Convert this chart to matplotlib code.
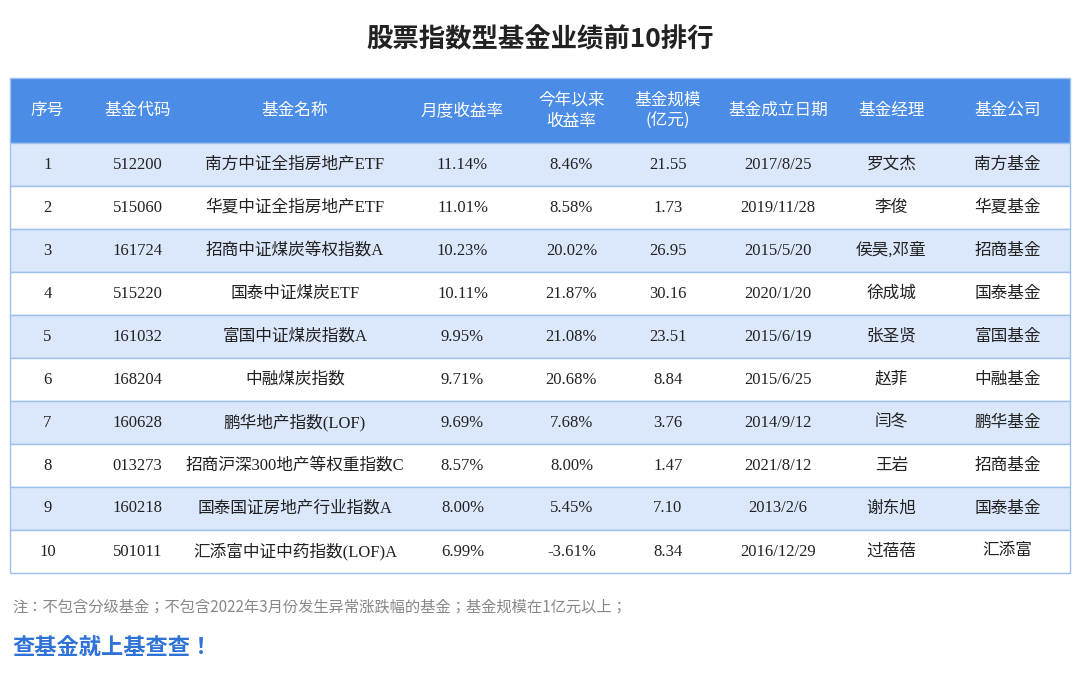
import matplotlib
matplotlib.use("Agg")
import matplotlib.pyplot as plt
from matplotlib.patches import Rectangle
from matplotlib import font_manager as fm

title = "股票指数型基金业绩前10排行"
headers = ["序号", "基金代码", "基金名称", "月度收益率", "今年以来\n收益率", "基金规模\n(亿元)", "基金成立日期", "基金经理", "基金公司"]
ranks = ["1","2","3","4","5","6","7","8","9","10"]
codes = ["512200","515060","161724","515220","161032","168204","160628","013273","160218","501011"]
names = ["南方中证全指房地产ETF","华夏中证全指房地产ETF","招商中证煤炭等权指数A","国泰中证煤炭ETF","富国中证煤炭指数A",
         "中融煤炭指数","鹏华地产指数(LOF)","招商沪深300地产等权重指数C","国泰国证房地产行业指数A","汇添富中证中药指数(LOF)A"]
monthly = ["11.14%","11.01%","10.23%","10.11%","9.95%","9.71%","9.69%","8.57%","8.00%","6.99%"]
ytd = ["8.46%","8.58%","20.02%","21.87%","21.08%","20.68%","7.68%","8.00%","5.45%","-3.61%"]
scale = ["21.55","1.73","26.95","30.16","23.51","8.84","3.76","1.47","7.10","8.34"]
dates = ["2017/8/25","2019/11/28","2015/5/20","2020/1/20","2015/6/19","2015/6/25","2014/9/12","2021/8/12","2013/2/6","2016/12/29"]
managers = ["罗文杰","李俊","侯昊,邓童","徐成城","张圣贤","赵菲","闫冬","王岩","谢东旭","过蓓蓓"]
companies = ["南方基金","华夏基金","招商基金","国泰基金","富国基金","中融基金","鹏华基金","招商基金","国泰基金","汇添富"]
note = "注：不包含分级基金；不包含2022年3月份发生异常涨跌幅的基金；基金规模在1亿元以上；"
slogan = "查基金就上基查查！"

names_avail = sorted({f.name for f in fm.fontManager.ttflist})
cjk = next((n for n in names_avail if "CJK" in n and "SC" in n), None) or \
      next((n for n in names_avail if "CJK" in n), "Noto Sans CJK SC")

W, H = 1080, 694
fig = plt.figure(figsize=(W/100, H/100), dpi=100)
ax = fig.add_axes([0, 0, 1, 1])
ax.set_xlim(0, W); ax.set_ylim(H, 0); ax.axis("off")

sans = [cjk]
serif = ["Liberation Serif", cjk]

ax.text(540, 40, title, ha="center", va="center", fontsize=19, fontweight="bold", family=sans, color="#222222")

xb = [10, 85, 190, 400, 525, 618, 718, 838, 945, 1070]
y0, hh, rh = 78, 65, 43
border = "#9dc0ee"
ax.add_patch(Rectangle((xb[0], y0), xb[-1]-xb[0], hh, facecolor="#4a8ce6", edgecolor=border, lw=1))
for i, h in enumerate(headers):
    ax.text((xb[i]+xb[i+1])/2, y0+hh/2, h, ha="center", va="center", fontsize=12, color="white",
            family=sans, linespacing=1.3)
cols = [ranks, codes, names, monthly, ytd, scale, dates, managers, companies]
for r in range(10):
    ty = y0 + hh + r*rh
    ax.add_patch(Rectangle((xb[0], ty), xb[-1]-xb[0], rh, facecolor="#dbe7fb" if r % 2 == 0 else "white",
                           edgecolor=border, lw=1))
    for c in range(9):
        ax.text((xb[c]+xb[c+1])/2, ty+rh/2, cols[c][r], ha="center", va="center", fontsize=12,
                color="#222222", family=serif)
ax.text(12, 607, note, ha="left", va="center", fontsize=11, color="#888888", family=sans)
ax.text(12, 648, slogan, ha="left", va="center", fontsize=16, fontweight="bold", color="#2f73d6", family=sans)
fig.savefig("out.png", dpi=100)
